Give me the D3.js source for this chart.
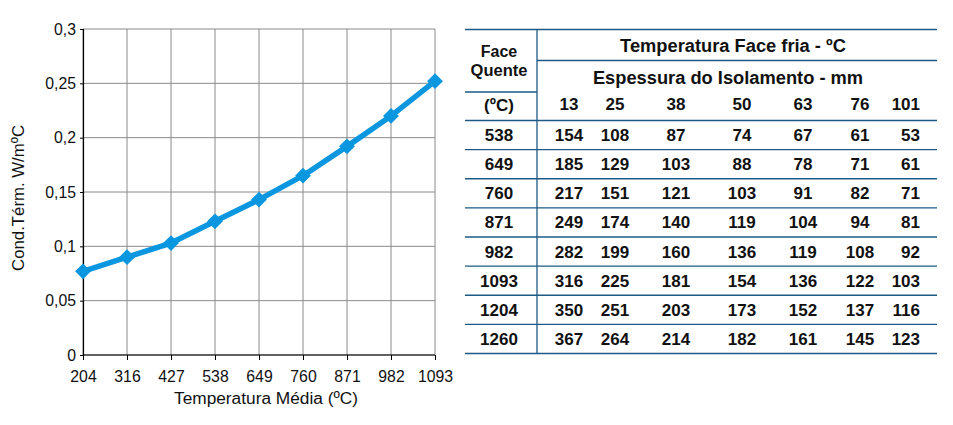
<!DOCTYPE html>
<html><head><meta charset="utf-8">
<script src="https://cdn.jsdelivr.net/npm/d3@7"></script>
<style>body{margin:0;background:#fff}svg{display:block}</style>
</head><body>
<svg id="c" width="953" height="425"></svg>
<script>
const temps = ["204","316","427","538","649","760","871","982","1093"];
const cond = [0.077, 0.090, 0.103, 0.123, 0.143, 0.165, 0.192, 0.220, 0.252];
const yTicks = [0, 0.05, 0.1, 0.15, 0.2, 0.25, 0.3];
const thickness = ["13","25","38","50","63","76","101"];
const hotFace = ["538","649","760","871","982","1093","1204","1260"];
const coldFace = [
  [154,108,87,74,67,61,53],
  [185,129,103,88,78,71,61],
  [217,151,121,103,91,82,71],
  [249,174,140,119,104,94,81],
  [282,199,160,136,119,108,92],
  [316,225,181,154,136,122,103],
  [350,251,203,173,152,137,116],
  [367,264,214,182,161,145,123]
];

const svg = d3.select("#c");
const font = "Liberation Sans, Arial, sans-serif";
const L = 83, R = 435, T = 29, B = 355;
const x = d3.scalePoint().domain(temps).range([L, R]);
const y = d3.scaleLinear().domain([0, 0.3]).range([B, T]);

const g = svg.append("g");
// grid
g.selectAll(".vg").data(temps).join("line")
  .attr("x1", d => x(d)).attr("x2", d => x(d)).attr("y1", T).attr("y2", B)
  .attr("stroke", "#8a8a8a").attr("stroke-width", 1);
g.selectAll(".hg").data(yTicks).join("line")
  .attr("x1", L).attr("x2", R).attr("y1", d => y(d)).attr("y2", d => y(d))
  .attr("stroke", "#8a8a8a").attr("stroke-width", 1);

const fmt = d => String(d).replace(".", ",");
const yAxis = g.append("g").attr("transform", `translate(${L},0)`)
  .call(d3.axisLeft(y).tickValues(yTicks).tickFormat(fmt).tickSize(3).tickPadding(4));
const xAxis = g.append("g").attr("transform", `translate(0,${B})`)
  .call(d3.axisBottom(x).tickSize(5).tickPadding(11));
[yAxis, xAxis].forEach(a => {
  a.select(".domain").attr("stroke", "#000").attr("stroke-width", 1.2);
  a.selectAll(".tick line").attr("stroke", "#000");
  a.selectAll("text").attr("font-family", font).attr("font-size", 15.8).attr("fill", "#111");
});
xAxis.select(".domain").attr("d", `M${L},0H${R}`);

g.append("text").attr("x", 266).attr("y", 404).attr("text-anchor", "middle")
  .attr("font-family", font).attr("font-size", 17.3).attr("fill", "#111")
  .text("Temperatura Média (ºC)");
g.append("text").attr("transform", `translate(24,${(T+B)/2 + 6}) rotate(-90)`)
  .attr("text-anchor", "middle").attr("font-family", font).attr("font-size", 16.8).attr("fill", "#111")
  .text("Cond.Térm. W/mºC");

const blue = "#0b97df";
const line = d3.line().x((d, i) => x(temps[i])).y(d => y(d));
g.append("path").datum(cond).attr("d", line).attr("fill", "none")
  .attr("stroke", blue).attr("stroke-width", 5.5).attr("stroke-linejoin", "round");
g.selectAll(".m").data(cond).join("path")
  .attr("transform", (d, i) => `translate(${x(temps[i])},${y(d)})`)
  .attr("d", d3.symbol(d3.symbolDiamond2, 160)).attr("fill", blue);

// table
const tc = "#1d5a86";
const tL = 465, tR = 937, tV = 537;
const tg = svg.append("g").attr("font-family", font).attr("font-weight", "bold").attr("fill", "#111");
const hl = (x1, x2, yy) => tg.append("line").attr("x1", x1).attr("x2", x2).attr("y1", yy).attr("y2", yy)
  .attr("stroke", tc).attr("stroke-width", 1.3);
hl(tL, tR, 29.5); hl(tV, tR, 60.5); hl(tL, tV, 92); hl(tL, tR, 120.5);
const rowY = d3.scaleLinear().domain([0, 8]).range([120.5, 353.5]);
hotFace.forEach((h, i) => hl(tL, tR, rowY(i + 1)));
tg.append("line").attr("x1", tV).attr("x2", tV).attr("y1", 29.5).attr("y2", 354)
  .attr("stroke", tc).attr("stroke-width", 1.3);

const fs = 17;
const txt = (s, xx, yy, anchor = "middle", size = fs) => tg.append("text").attr("x", xx).attr("y", yy)
  .attr("text-anchor", anchor).attr("font-size", size).text(s);
txt("Face", 499, 57, "middle", 16);
txt("Quente", 499, 75.5, "middle", 16.5);
txt("(ºC)", 499, 111);
txt("Temperatura Face fria - ºC", 733, 52, "middle", 18.3);
txt("Espessura do Isolamento - mm", 728, 84, "middle", 18.3);
const colX = [569, 615, 676, 742, 803, 860, 920];
thickness.forEach((t, j) => txt(t, colX[j], 110, j === 6 ? "end" : "middle"));
hotFace.forEach((h, i) => {
  const yy = (rowY(i) + rowY(i + 1)) / 2 + 6;
  txt(h, 499, yy);
  coldFace[i].forEach((v, j) => txt(v, colX[j], yy, j === 6 ? "end" : "middle"));
});
</script>
</body></html>
